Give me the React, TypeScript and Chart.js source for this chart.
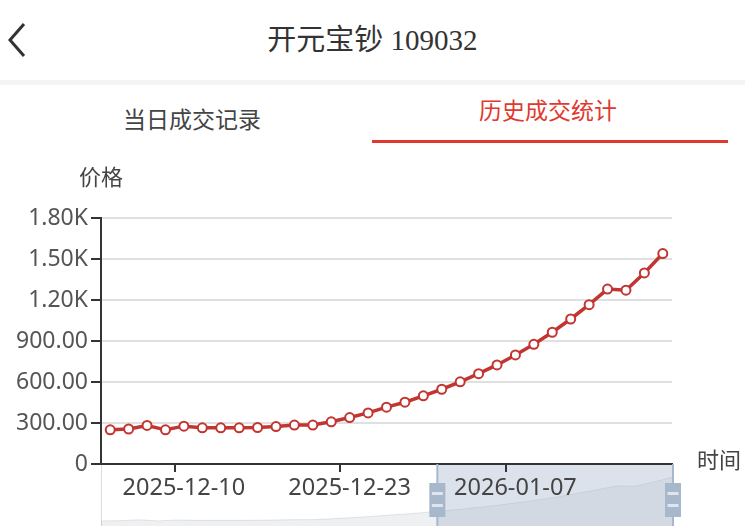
import React, { useEffect, useRef } from "react";
import { Chart, registerables } from "chart.js";

Chart.register(...registerables);

// ---- data ----
const categories: string[] = [
  "2025-12-04", "2025-12-05", "2025-12-08", "2025-12-09", "2025-12-10",
  "2025-12-11", "2025-12-12", "2025-12-15", "2025-12-16", "2025-12-17",
  "2025-12-18", "2025-12-19", "2025-12-22", "2025-12-23", "2025-12-24",
  "2025-12-25", "2025-12-26", "2025-12-29", "2025-12-30", "2025-12-31",
  "2026-01-05", "2026-01-06", "2026-01-07", "2026-01-08", "2026-01-09",
  "2026-01-12", "2026-01-13", "2026-01-14", "2026-01-15", "2026-01-16",
  "2026-01-19",
];
const prices: number[] = [
  250, 256, 282, 250, 277, 265, 265, 265, 267, 274,
  285, 285, 309, 340, 374, 416, 452, 499, 547, 601,
  661, 725, 798, 876, 964, 1061, 1166, 1280, 1272, 1398,
  1540,
];
const yMin = 0;
const yMax = 1800;
const yStep = 300;
const labelEvery = 9;
const labelFirst = 4;
const zoomStart = 0.588;
const zoomEnd = 1;

const title = "开元宝钞 109032";
const tabs = ["当日成交记录", "历史成交统计"];
const yName = "价格";
const xName = "时间";

// ---- styles ----
const RED = "#c23531";
const AXIS = "#333";
const FONT = '"Noto Sans", "Noto Sans CJK SC", sans-serif';
const CJK = '"Noto Sans CJK SC", "Noto Sans", sans-serif';

function fmt(v: number): string {
  if (v === 0) return "0";
  if (v >= 1000) return (v / 1000).toFixed(2) + "K";
  return v.toFixed(2);
}

const sliderPlugin = {
  id: "sliderZoom",
  beforeDraw(chart: any) {
    const { ctx, chartArea } = chart;
    const left = chartArea.left;
    const right = chartArea.right + 1;
    const top = chartArea.bottom;
    const h = 70;
    const w = right - left;
    ctx.save();
    ctx.strokeStyle = "#ddd";
    ctx.lineWidth = 1;
    ctx.strokeRect(left + 0.5, top + 0.5, w, h);
    const lo0 = Math.min(...prices);
    const hi0 = Math.max(...prices);
    const off = (hi0 - lo0) * 0.3;
    const lo = lo0 - off;
    const hi = hi0 + off;
    const n = prices.length;
    const path = () => {
      ctx.beginPath();
      prices.forEach((v, i) => {
        const x = left + (i * w) / (n - 1);
        const y = top + h - ((v - lo) / (hi - lo)) * h;
        if (i === 0) ctx.moveTo(x, y);
        else ctx.lineTo(x, y);
      });
    };
    path();
    ctx.lineTo(right, top + h);
    ctx.lineTo(left, top + h);
    ctx.closePath();
    ctx.fillStyle = "rgba(47,69,84,0.08)";
    ctx.fill();
    path();
    ctx.strokeStyle = "rgba(47,69,84,0.12)";
    ctx.lineWidth = 1;
    ctx.stroke();
    const sx = left + zoomStart * w;
    const ex = left + zoomEnd * w;
    ctx.fillStyle = "rgba(167,183,204,0.4)";
    ctx.fillRect(sx, top, ex - sx, h);
    ctx.restore();
  },
  afterDraw(chart: any) {
    const { ctx, chartArea } = chart;
    const left = chartArea.left;
    const right = chartArea.right + 1;
    const top = chartArea.bottom;
    const h = 70;
    const w = right - left;
    ctx.save();
    [left + zoomStart * w, left + zoomEnd * w].forEach((x) => {
      ctx.fillStyle = "#a7b7cc";
      ctx.fillRect(x - 1, top, 2, h);
      ctx.fillRect(x - 8, top + 19, 16, 34);
      ctx.fillStyle = "#dfe5ee";
      ctx.fillRect(x - 5.5, top + 28, 11, 3);
      ctx.fillRect(x - 5.5, top + 40, 11, 3);
    });
    ctx.fillStyle = "#444";
    ctx.font = `22px ${CJK}`;
    ctx.textBaseline = "middle";
    ctx.textAlign = "center";
    ctx.fillText(yName, chartArea.left, chartArea.top - 41);
    ctx.textAlign = "left";
    ctx.fillText(xName, chartArea.right + 25, chartArea.bottom - 4);
    ctx.restore();
  },
};

function PriceChart() {
  const ref = useRef<HTMLCanvasElement | null>(null);
  useEffect(() => {
    if (!ref.current) return;
    const chart = new Chart(ref.current, {
      type: "line",
      data: {
        labels: categories,
        datasets: [
          {
            data: prices,
            borderColor: RED,
            borderWidth: 3.5,
            pointRadius: 4.5,
            pointBackgroundColor: "#fff",
            pointBorderColor: RED,
            pointBorderWidth: 2,
            tension: 0,
          },
        ],
      },
      options: {
        animation: false,
        responsive: false,
        devicePixelRatio: 1,
        layout: { padding: { left: 0, right: 73, top: 68, bottom: 0 } },
        plugins: { legend: { display: false }, tooltip: { enabled: false } },
        scales: {
          x: {
            type: "category",
            offset: true,
            afterFit: (s: any) => {
              s.height = 62;
            },
            border: { display: true, color: AXIS, width: 2 },
            grid: {
              offset: true,
              drawOnChartArea: false,
              drawTicks: true,
              tickLength: 8,
              lineWidth: 2,
              tickColor: (c: any) =>
                c.index % labelEvery === labelFirst ? AXIS : "rgba(0,0,0,0)",
            },
            ticks: {
              autoSkip: false,
              maxRotation: 0,
              minRotation: 0,
              padding: 2,
              color: "#444",
              font: { size: 23.5, family: FONT },
              callback: (_v: any, i: number) =>
                i % labelEvery === labelFirst ? categories[i] : "",
            },
          },
          y: {
            min: yMin,
            max: yMax,
            afterFit: (s: any) => {
              s.width = 101;
            },
            border: { display: true, color: AXIS, width: 2 },
            grid: {
              color: "#e0e0e0",
              lineWidth: 2,
              drawTicks: true,
              tickLength: 10,
              tickColor: AXIS,
            },
            ticks: {
              stepSize: yStep,
              padding: 3,
              color: "#555",
              font: { size: 23, family: FONT },
              callback: (v: any) => fmt(Number(v)),
            },
          },
        },
      },
      plugins: [sliderPlugin],
    } as any);
    return () => chart.destroy();
  }, []);
  return (
    <canvas
      ref={ref}
      width={745}
      height={376}
      style={{ position: "absolute", left: 0, top: 150, width: 745, height: 376 }}
    />
  );
}

export default function App() {
  useEffect(() => {
    document.body.style.margin = "0";
  }, []);
  return (
    <div
      style={{
        position: "relative",
        width: 745,
        height: 526,
        overflow: "hidden",
        background: "#fff",
      }}
    >
      <svg
        width={40}
        height={70}
        style={{ position: "absolute", left: 0, top: 5 }}
      >
        <polyline
          points="24,19 10,35 24,51"
          fill="none"
          stroke="#333"
          strokeWidth={3}
        />
      </svg>
      <div
        style={{
          position: "absolute",
          left: 0,
          top: 20,
          width: 745,
          height: 40,
          lineHeight: "40px",
          textAlign: "center",
          fontSize: 29,
          color: "#333",
          fontFamily: '"Liberation Serif", "Noto Sans CJK SC", serif',
        }}
      >
        {title}
      </div>
      <div
        style={{
          position: "absolute",
          left: 0,
          top: 80,
          width: 745,
          height: 5,
          background: "#f4f4f4",
        }}
      />
      <div
        style={{
          position: "absolute",
          left: 92,
          width: 200,
          top: 100,
          height: 36,
          lineHeight: "36px",
          textAlign: "center",
          fontSize: 23,
          color: "#444",
          fontFamily: CJK,
        }}
      >
        {tabs[0]}
      </div>
      <div
        style={{
          position: "absolute",
          left: 448,
          width: 200,
          top: 91,
          height: 36,
          lineHeight: "36px",
          textAlign: "center",
          fontSize: 23,
          color: "#e0392f",
          fontFamily: CJK,
        }}
      >
        {tabs[1]}
      </div>
      <div
        style={{
          position: "absolute",
          left: 372,
          width: 356,
          top: 140,
          height: 3,
          background: "#e0392f",
        }}
      />
      <PriceChart />
    </div>
  );
}
